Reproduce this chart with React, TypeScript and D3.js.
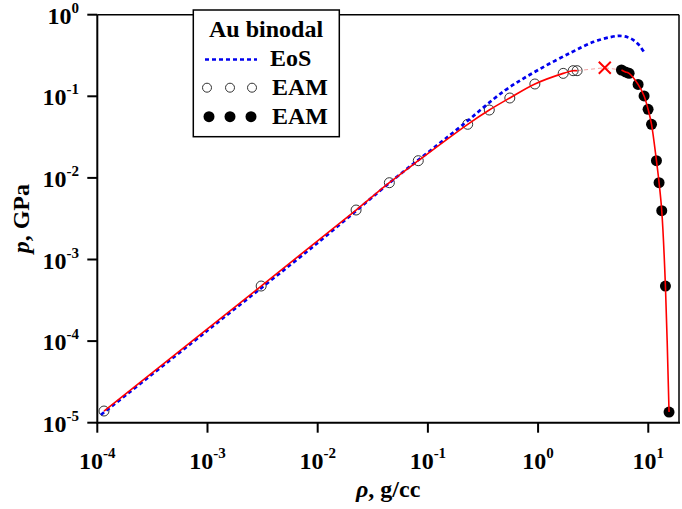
import React, { useEffect, useRef } from 'react';
import * as d3 from 'd3';

// gas side of the binodal (open circles)
const gasRho = [1.15e-4, 3.07e-3, 0.0223, 0.0447, 0.0818, 0.2297, 0.3607, 0.554, 0.935, 1.69, 2.08, 2.26];
const gasP = [1.39e-5, 4.73e-4, 4.04e-3, 8.73e-3, 0.01625, 0.0454, 0.0679, 0.0953, 0.1415, 0.191, 0.206, 0.206];

// liquid side (filled circles)
const liqRho = [5.71, 6.21, 6.7, 8.08, 9.16, 9.96, 10.7, 11.86, 12.53, 13.25, 14.31, 15.43];
const liqP = [0.21, 0.199, 0.191, 0.14, 0.101, 0.0693, 0.0454, 0.01625, 8.73e-3, 3.96e-3, 4.73e-4, 1.35e-5];

// EoS binodal (blue dotted)
const eosRho = [1.08e-4, 1e-3, 1e-2, 0.05, 0.1, 0.2, 0.5, 1.0, 2.0, 3.2, 4.5, 5.5, 6.5, 7.3, 8.3, 9.3];
const eosP = [1.25e-5, 1.35e-4, 1.6e-3, 9.8e-3, 0.0205, 0.043, 0.118, 0.21, 0.345, 0.465, 0.53, 0.55, 0.53, 0.49, 0.42, 0.336];

// critical point
const critRho = 4.03;
const critP = 0.224;

const xTicks = [-4, -3, -2, -1, 0, 1];
const yTicks = [-5, -4, -3, -2, -1, 0];

const FONT = '"Liberation Serif", "Times New Roman", serif';

const App = () => {
  const ref = useRef<SVGSVGElement>(null);

  useEffect(() => {
    const width = 682;
    const height = 509;
    const left = 97.3, right = 679, top = 14.7, bottom = 422.7;

    const svg = d3.select(ref.current).attr('width', width).attr('height', height);
    svg.selectAll('*').remove();

    const x = d3.scaleLog().domain([1e-4, 19]).range([left, right]);
    const y = d3.scaleLog().domain([1e-5, 1]).range([bottom, top]);

    // frame
    svg.append('line').attr('x1', left).attr('x2', right).attr('y1', top).attr('y2', top)
      .attr('stroke', '#000').attr('stroke-width', 1.5);
    svg.append('line').attr('x1', right).attr('x2', right).attr('y1', top).attr('y2', bottom)
      .attr('stroke', '#000').attr('stroke-width', 1.5);
    svg.append('line').attr('x1', left).attr('x2', right + 1).attr('y1', bottom).attr('y2', bottom)
      .attr('stroke', '#000').attr('stroke-width', 2);
    svg.append('line').attr('x1', left).attr('x2', left).attr('y1', top).attr('y2', bottom + 1)
      .attr('stroke', '#000').attr('stroke-width', 2);

    // x ticks + labels
    xTicks.forEach((e) => {
      const px = x(Math.pow(10, e));
      svg.append('line').attr('x1', px).attr('x2', px).attr('y1', bottom).attr('y2', bottom + 10)
        .attr('stroke', '#000').attr('stroke-width', 2);
      const t = svg.append('text').attr('x', px).attr('y', 469).attr('text-anchor', 'middle')
        .style('font-family', FONT).style('font-weight', 'bold').style('font-size', '24px');
      t.append('tspan').text('10');
      t.append('tspan').attr('dy', -11).style('font-size', '15px').text(String(e));
    });

    // y ticks + labels
    yTicks.forEach((e) => {
      const py = y(Math.pow(10, e));
      svg.append('line').attr('x1', left - 10).attr('x2', left).attr('y1', py).attr('y2', py)
        .attr('stroke', '#000').attr('stroke-width', 2);
      const t = svg.append('text').attr('x', 79).attr('y', py + 9).attr('text-anchor', 'end')
        .style('font-family', FONT).style('font-weight', 'bold').style('font-size', '24px');
      t.append('tspan').text('10');
      t.append('tspan').attr('dy', -11).style('font-size', '15px').text(String(e));
    });

    // axis titles
    const xt = svg.append('text').attr('x', (left + right) / 2).attr('y', 497).attr('text-anchor', 'middle')
      .style('font-family', FONT).style('font-weight', 'bold').style('font-size', '24px');
    xt.append('tspan').style('font-style', 'italic').text('ρ');
    xt.append('tspan').text(', g/cc');

    const yt = svg.append('text')
      .attr('transform', `translate(29, ${(top + bottom) / 2}) rotate(-90)`)
      .attr('text-anchor', 'middle')
      .style('font-family', FONT).style('font-weight', 'bold').style('font-size', '24px');
    yt.append('tspan').style('font-style', 'italic').text('p');
    yt.append('tspan').text(', GPa');

    const line = d3.line<[number, number]>()
      .x((d) => x(d[0]))
      .y((d) => y(d[1]))
      .curve(d3.curveCatmullRom);

    // dashed connector through the critical point
    const conn: [number, number][] = [
      [gasRho[gasRho.length - 1], gasP[gasP.length - 1]],
      [critRho, critP],
      [liqRho[0], liqP[0]],
    ];
    svg.append('path').attr('d', d3.line<[number, number]>().x((d) => x(d[0])).y((d) => y(d[1]))(conn))
      .attr('fill', 'none').attr('stroke', '#f6a0a0').attr('stroke-width', 1).attr('stroke-dasharray', '4,3');

    // EAM points
    svg.selectAll('.open').data(gasRho).enter().append('circle')
      .attr('cx', (d) => x(d)).attr('cy', (d, i) => y(gasP[i])).attr('r', 5)
      .attr('fill', 'none').attr('stroke', '#333').attr('stroke-width', 1);
    svg.selectAll('.filled').data(liqRho).enter().append('circle')
      .attr('cx', (d) => x(d)).attr('cy', (d, i) => y(liqP[i])).attr('r', 5.5)
      .attr('fill', '#000');

    // EoS
    svg.append('path').attr('d', line(eosRho.map((r, i) => [r, eosP[i]])))
      .attr('fill', 'none').attr('stroke', '#0000ee').attr('stroke-width', 2.7).attr('stroke-dasharray', '4,3');

    // fitted binodal (red)
    svg.append('path').attr('d', line(gasRho.map((r, i) => [r, gasP[i]])))
      .attr('fill', 'none').attr('stroke', '#ff0000').attr('stroke-width', 1.6);
    svg.append('path').attr('d', line(liqRho.map((r, i) => [r, liqP[i]])))
      .attr('fill', 'none').attr('stroke', '#ff0000').attr('stroke-width', 1.6);

    // critical point cross
    const cx = x(critRho), cy = y(critP);
    svg.append('path').attr('d', `M${cx - 6},${cy - 6}L${cx + 6},${cy + 6}M${cx - 6},${cy + 6}L${cx + 6},${cy - 6}`)
      .attr('stroke', '#ff0000').attr('stroke-width', 2);

    // legend
    const lg = svg.append('g');
    lg.append('rect').attr('x', 193.3).attr('y', 10).attr('width', 146).attr('height', 126.7)
      .attr('fill', '#fff').attr('stroke', '#000').attr('stroke-width', 1.5);
    const ltext = (tx: number, ty: number, s: string) =>
      lg.append('text').attr('x', tx).attr('y', ty).style('font-family', FONT)
        .style('font-weight', 'bold').style('font-size', '24px').text(s);
    ltext(209, 37, 'Au binodal');
    lg.append('line').attr('x1', 205).attr('x2', 257).attr('y1', 59.5).attr('y2', 59.5)
      .attr('stroke', '#0000ee').attr('stroke-width', 2.7).attr('stroke-dasharray', '4,3');
    ltext(270, 66, 'EoS');
    [207, 230, 252].forEach((cxl) => {
      lg.append('circle').attr('cx', cxl).attr('cy', 87.7).attr('r', 4.5)
        .attr('fill', 'none').attr('stroke', '#333').attr('stroke-width', 1);
    });
    ltext(272, 95, 'EAM');
    [209, 230, 251].forEach((cxl) => {
      lg.append('circle').attr('cx', cxl).attr('cy', 116.7).attr('r', 5.5).attr('fill', '#000');
    });
    ltext(272, 124, 'EAM');
  }, []);

  return (
    <svg ref={ref} style={{ position: 'absolute', left: 0, top: 0, background: '#fff' }}></svg>
  );
};

export default App;
